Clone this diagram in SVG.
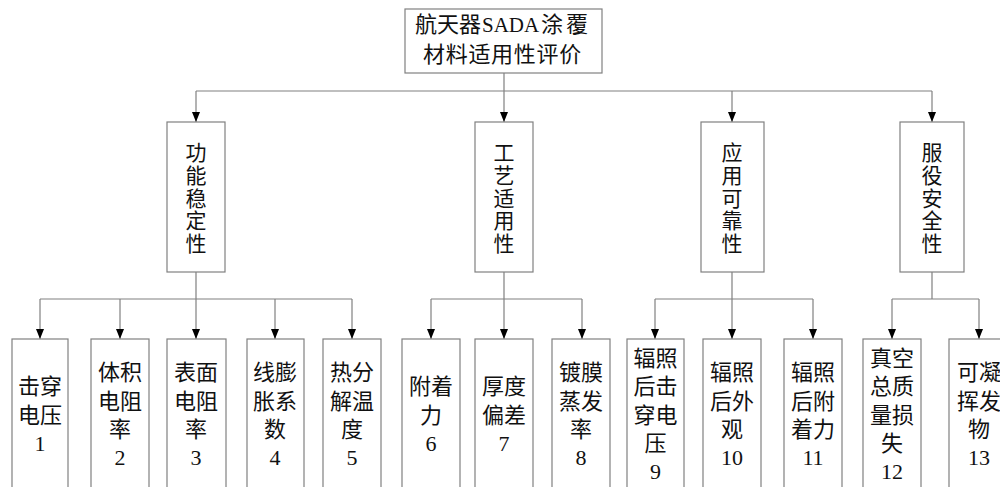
<svg xmlns="http://www.w3.org/2000/svg" width="1000" height="487" viewBox="0 0 1000 487">
<style>
.box{fill:#fff;stroke:#808080;stroke-width:1.2}
.ln{fill:none;stroke:#808080;stroke-width:1.2}
.t{font-family:"Liberation Serif","Noto Sans CJK SC",serif;fill:#111;text-anchor:middle}
.t2{font-size:21px}
.t3{font-size:22px}
</style>
<rect width="1000" height="487" fill="#fff"/>
<g id="connectors">
<path class="ln" d="M504,73 V91 M196,91 H932"/>
<path class="ln" d="M196,91 V122"/>
<path class="ln" d="M504,91 V122"/>
<path class="ln" d="M732,91 V122"/>
<path class="ln" d="M932,91 V122"/>
<path class="ln" d="M196,272 V299 M40,299 H352 M504,272 V299 M431,299 H582 M732,272 V299 M655,299 H813 M932,272 V299 M892,299 H979"/>
<g fill="#000">
<path d="M192,112 L200,112 L196,122 Z"/>
<path d="M500,112 L508,112 L504,122 Z"/>
<path d="M728,112 L736,112 L732,122 Z"/>
<path d="M928,112 L936,112 L932,122 Z"/>
</g>
<g class="ln">
<path d="M40,299 V339"/><path d="M120,299 V339"/><path d="M196,299 V339"/><path d="M275,299 V339"/><path d="M352,299 V339"/>
<path d="M431,299 V339"/><path d="M504,299 V339"/><path d="M582,299 V339"/>
<path d="M655,299 V339"/><path d="M732,299 V339"/><path d="M813,299 V339"/>
<path d="M892,299 V339"/><path d="M979,299 V339"/>
</g>
<g fill="#000">
<path d="M36,329 h8 l-4,10 z"/><path d="M116,329 h8 l-4,10 z"/><path d="M192,329 h8 l-4,10 z"/><path d="M271,329 h8 l-4,10 z"/><path d="M348,329 h8 l-4,10 z"/>
<path d="M427,329 h8 l-4,10 z"/><path d="M500,329 h8 l-4,10 z"/><path d="M578,329 h8 l-4,10 z"/>
<path d="M651,329 h8 l-4,10 z"/><path d="M728,329 h8 l-4,10 z"/><path d="M809,329 h8 l-4,10 z"/>
<path d="M888,329 h8 l-4,10 z"/><path d="M975,329 h8 l-4,10 z"/>
</g>
</g>
<g id="root">
<rect class="box" x="405" y="9" width="197" height="64"/>
<text class="t" font-size="22px" style="text-anchor:start"><tspan x="415" y="32">航天器</tspan><tspan x="482" y="32" font-size="21px">SADA</tspan><tspan x="541" y="32" letter-spacing="3">涂覆</tspan></text>
<text class="t" font-size="22px" style="text-anchor:start" letter-spacing="0.7"><tspan x="423" y="62">材料适用性评价</tspan></text>
</g>
<g id="n_gongneng">
<rect class="box" x="167" y="122" width="58" height="150"/>
<text class="t t2"><tspan x="196" y="160">功</tspan><tspan x="196" y="182.75">能</tspan><tspan x="196" y="205.5">稳</tspan><tspan x="196" y="228.25">定</tspan><tspan x="196" y="251">性</tspan></text>
</g>
<g id="n_gongyi">
<rect class="box" x="475" y="122" width="58" height="150"/>
<text class="t t2"><tspan x="504" y="160">工</tspan><tspan x="504" y="182.75">艺</tspan><tspan x="504" y="205.5">适</tspan><tspan x="504" y="228.25">用</tspan><tspan x="504" y="251">性</tspan></text>
</g>
<g id="n_yingyong">
<rect class="box" x="701" y="122" width="63" height="150"/>
<text class="t t2"><tspan x="732" y="160">应</tspan><tspan x="732" y="182.75">用</tspan><tspan x="732" y="205.5">可</tspan><tspan x="732" y="228.25">靠</tspan><tspan x="732" y="251">性</tspan></text>
</g>
<g id="n_fuyi">
<rect class="box" x="900" y="122" width="64" height="150"/>
<text class="t t2"><tspan x="932" y="160">服</tspan><tspan x="932" y="182.75">役</tspan><tspan x="932" y="205.5">安</tspan><tspan x="932" y="228.25">全</tspan><tspan x="932" y="251">性</tspan></text>
</g>
<g id="c1">
<rect class="box" x="12" y="339" width="56" height="160"/>
<text class="t t3"><tspan x="40" y="394.25">击穿</tspan><tspan x="40" y="422.75">电压</tspan><tspan x="40" y="451.25">1</tspan></text>
</g>
<g id="c2">
<rect class="box" x="91" y="339" width="58" height="160"/>
<text class="t t3"><tspan x="120" y="380">体积</tspan><tspan x="120" y="408.5">电阻</tspan><tspan x="120" y="437">率</tspan><tspan x="120" y="464.5">2</tspan></text>
</g>
<g id="c3">
<rect class="box" x="167" y="339" width="59" height="160"/>
<text class="t t3"><tspan x="196" y="380">表面</tspan><tspan x="196" y="408.5">电阻</tspan><tspan x="196" y="437">率</tspan><tspan x="196" y="464.5">3</tspan></text>
</g>
<g id="c4">
<rect class="box" x="247" y="339" width="57" height="160"/>
<text class="t t3"><tspan x="275" y="380">线膨</tspan><tspan x="275" y="408.5">胀系</tspan><tspan x="275" y="437">数</tspan><tspan x="275" y="464.5">4</tspan></text>
</g>
<g id="c5">
<rect class="box" x="323" y="339" width="58" height="160"/>
<text class="t t3"><tspan x="352" y="380">热分</tspan><tspan x="352" y="408.5">解温</tspan><tspan x="352" y="437">度</tspan><tspan x="352" y="464.5">5</tspan></text>
</g>
<g id="c6">
<rect class="box" x="402" y="339" width="58" height="160"/>
<text class="t t3"><tspan x="431" y="394.25">附着</tspan><tspan x="431" y="422.75">力</tspan><tspan x="431" y="450.5">6</tspan></text>
</g>
<g id="c7">
<rect class="box" x="475" y="339" width="58" height="160"/>
<text class="t t3"><tspan x="504" y="394.25">厚度</tspan><tspan x="504" y="422.75">偏差</tspan><tspan x="504" y="450.5">7</tspan></text>
</g>
<g id="c8">
<rect class="box" x="552" y="339" width="58" height="160"/>
<text class="t t3"><tspan x="581" y="380">镀膜</tspan><tspan x="581" y="408.5">蒸发</tspan><tspan x="581" y="437">率</tspan><tspan x="581" y="464.5">8</tspan></text>
</g>
<g id="c9">
<rect class="box" x="627" y="339" width="57" height="160"/>
<text class="t t3"><tspan x="655.5" y="365.75">辐照</tspan><tspan x="655.5" y="394.25">后击</tspan><tspan x="655.5" y="422.75">穿电</tspan><tspan x="655.5" y="451.25">压</tspan><tspan x="655.5" y="479">9</tspan></text>
</g>
<g id="c10">
<rect class="box" x="703" y="339" width="58" height="160"/>
<text class="t t3"><tspan x="732" y="380">辐照</tspan><tspan x="732" y="408.5">后外</tspan><tspan x="732" y="437">观</tspan><tspan x="732" y="464.5">10</tspan></text>
</g>
<g id="c11">
<rect class="box" x="784" y="339" width="58" height="160"/>
<text class="t t3"><tspan x="813" y="380">辐照</tspan><tspan x="813" y="408.5">后附</tspan><tspan x="813" y="437">着力</tspan><tspan x="813" y="464.5">11</tspan></text>
</g>
<g id="c12">
<rect class="box" x="863" y="339" width="58" height="160"/>
<text class="t t3"><tspan x="892" y="365.75">真空</tspan><tspan x="892" y="394.25">总质</tspan><tspan x="892" y="422.75">量损</tspan><tspan x="892" y="451.25">失</tspan><tspan x="892" y="479">12</tspan></text>
</g>
<g id="c13">
<rect class="box" x="949" y="339" width="58" height="160"/>
<text class="t t3"><tspan x="979" y="380">可凝</tspan><tspan x="979" y="408.5">挥发</tspan><tspan x="979" y="437">物</tspan><tspan x="979" y="464.5">13</tspan></text>
</g>
</svg>
